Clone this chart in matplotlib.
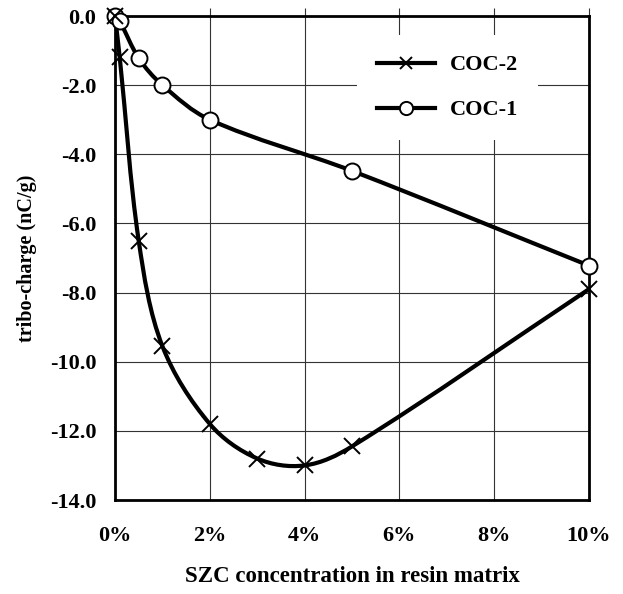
import numpy as np
import matplotlib
matplotlib.use("Agg")
import matplotlib.pyplot as plt
from matplotlib.path import Path
from matplotlib.patches import PathPatch
from matplotlib.lines import Line2D

# ---- data ----
coc2_x = [0, 0.1, 0.5, 1, 2, 3, 4, 5, 10]
coc2_y = [0, -1.2, -6.5, -9.55, -11.8, -12.8, -13.0, -12.45, -7.9]
coc1_x = [0, 0.1, 0.5, 1, 2, 5, 10]
coc1_y = [0, -0.15, -1.22, -2.0, -3.0, -4.48, -7.22]
series_names = ["COC-2", "COC-1"]
xticks = [0, 2, 4, 6, 8, 10]
xtick_labels = ["0%", "2%", "4%", "6%", "8%", "10%"]
yticks = [0, -2, -4, -6, -8, -10, -12, -14]
ytick_labels = ["0.0", "-2.0", "-4.0", "-6.0", "-8.0", "-10.0", "-12.0", "-14.0"]
xlabel = "SZC concentration in resin matrix"
ylabel = "tribo-charge (nC/g)"

plt.rcParams['font.family'] = ['Liberation Serif', 'DejaVu Serif']
plt.rcParams['font.weight'] = 'bold'

fig = plt.figure(figsize=(6.23, 5.94), dpi=100)
ax = fig.add_axes([115 / 623, 1 - 500 / 594, 474 / 623, 484 / 594])
ax.set_xlim(0, 10)
ax.set_ylim(-14, 0)


def smooth_path(xs, ys):
    # smooth bezier through the points, computed in display space
    P = ax.transData.transform(np.column_stack([xs, ys]).astype(float))
    n = len(P)
    tang = []
    for i in range(n):
        if i == 0 or i == n - 1:
            tang.append(None)
        else:
            d = P[i + 1] - P[i - 1]
            tang.append(d / np.linalg.norm(d))
    verts = [P[0]]
    codes = [Path.MOVETO]
    for i in range(n - 1):
        p1, p2 = P[i], P[i + 1]
        L = np.linalg.norm(p2 - p1)
        c1 = p1 + (p2 - p1) / 3.0 if tang[i] is None else p1 + tang[i] * L / 3.0
        c2 = p2 - (p2 - p1) / 3.0 if tang[i + 1] is None else p2 - tang[i + 1] * L / 3.0
        verts += [c1, c2, p2]
        codes += [Path.CURVE4] * 3
    verts = ax.transData.inverted().transform(np.array(verts))
    return Path(verts, codes)


ax.grid(True, color='#333333', linewidth=0.8)
ax.set_axisbelow(True)

lw = 3.0
ax.add_patch(PathPatch(smooth_path(coc2_x, coc2_y), fill=False, edgecolor='black',
                       linewidth=lw, capstyle='round', joinstyle='round', zorder=3))
ax.add_patch(PathPatch(smooth_path(coc1_x, coc1_y), fill=False, edgecolor='black',
                       linewidth=lw, capstyle='round', joinstyle='round', zorder=3))
ax.plot(coc1_x, coc1_y, linestyle='none', marker='o', markersize=11.5,
        markerfacecolor='white', markeredgecolor='black', markeredgewidth=1.4,
        clip_on=False, zorder=4)
ax.plot(coc2_x, coc2_y, linestyle='none', marker='x', markersize=11,
        markeredgecolor='black', markeredgewidth=1.4, clip_on=False, zorder=5)

ax.set_xticks(xticks)
ax.set_xticklabels(xtick_labels, fontsize=16, fontweight='bold')
ax.set_yticks(yticks)
ax.set_yticklabels(ytick_labels, fontsize=16, fontweight='bold')
ax.tick_params(axis='x', top=True, bottom=False, labelbottom=True, direction='out',
               length=6, width=0.8, pad=13, color='#333333')
ax.tick_params(axis='y', left=False, right=False, pad=10)

for s in ax.spines.values():
    s.set_linewidth(2.0)

ax.set_xlabel(xlabel, fontsize=16.5, fontweight='bold', labelpad=14)
ax.set_ylabel(ylabel, fontsize=14.5, fontweight='bold', labelpad=9)

handles = [
    Line2D([], [], color='black', linewidth=lw, marker='x', markersize=9,
           markeredgewidth=1.4, markeredgecolor='black'),
    Line2D([], [], color='black', linewidth=lw, marker='o', markersize=9.5,
           markerfacecolor='white', markeredgecolor='black', markeredgewidth=1.4),
]
leg = ax.legend(handles, series_names, loc='upper left', bbox_to_anchor=(0.51, 0.961),
                frameon=True, fancybox=False, framealpha=1, facecolor='white',
                edgecolor='none', prop={'size': 16, 'weight': 'bold'},
                handlelength=2.6, handletextpad=0.7, labelspacing=1.1,
                borderpad=0.9, borderaxespad=0)
leg.set_zorder(2.5)

fig.savefig("out.png", dpi=100)
